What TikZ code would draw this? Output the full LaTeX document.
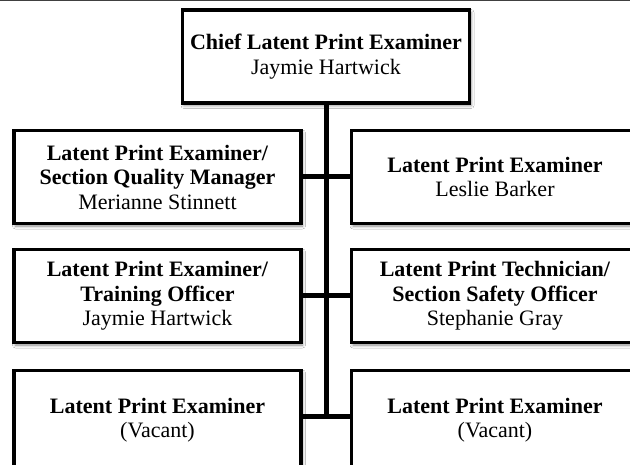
\documentclass[tikz,border=0pt]{standalone}
\usepackage{fontspec}
\setmainfont{Liberation Serif}
\usetikzlibrary{shadows.blur}
\tikzset{
  post/.style={draw, line width=3.5pt, fill=white, align=center,
    minimum width=287pt, minimum height=93pt, inner sep=0pt,
    font=\fontsize{22}{24.5}\selectfont,
    blur shadow={shadow xshift=1.5pt, shadow yshift=-2.5pt,
      shadow blur radius=3pt, shadow opacity=45}},
  link/.style={line width=5pt}
}
\begin{document}
\begin{tikzpicture}[x=1pt, y=-1pt]
  \useasboundingbox (0,0) rectangle (630,465);
  \fill[white] (0,0) rectangle (630,465);
  \draw[black!75, line width=1.5pt] (0,0.75) -- (630,0.75);
  \node[post] (chief) at (326,56.5) {\textbf{Chief Latent Print Examiner}\\Jaymie Hartwick};
  \node[post] (qm) at (157.5,177) {\textbf{Latent Print Examiner/}\\\textbf{Section Quality Manager}\\Merianne Stinnett};
  \node[post] (lb) at (495,177) {\textbf{Latent Print Examiner}\\Leslie Barker};
  \node[post] (to) at (157.5,296) {\textbf{Latent Print Examiner/}\\\textbf{Training Officer}\\Jaymie Hartwick};
  \node[post] (so) at (495,296) {\textbf{Latent Print Technician/}\\\textbf{Section Safety Officer}\\Stephanie Gray};
  \node[post, minimum height=99pt] (vl) at (157.5,420) {\textbf{Latent Print Examiner}\\(Vacant)};
  \node[post, minimum height=99pt] (vr) at (495,420) {\textbf{Latent Print Examiner}\\(Vacant)};
  \coordinate (lowl) at ([yshift=3pt]vl.east);
  \coordinate (lowr) at ([yshift=3pt]vr.west);
  \draw[link] (qm.east) -- (lb.west);
  \draw[link] (to.east) -- (so.west);
  \draw[link] (lowl) -- (lowr);
  \draw[link] (chief.south) -- (chief.south |- lowl);
\end{tikzpicture}
\end{document}
